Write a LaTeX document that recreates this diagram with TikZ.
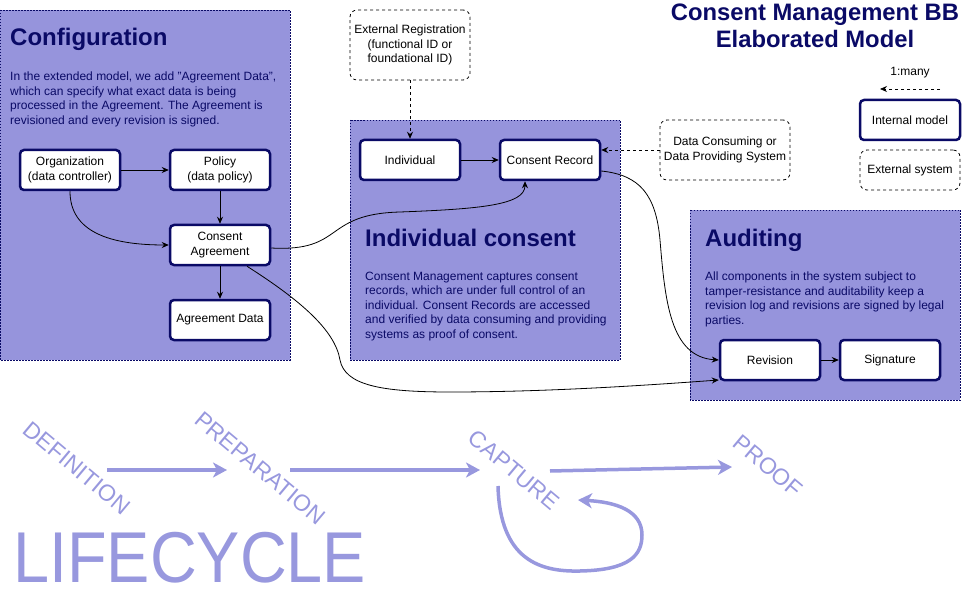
\documentclass[tikz,border=0pt]{standalone}
\usepackage{fontspec}
\setmainfont{Liberation Sans}
\usetikzlibrary{arrows.meta}
\definecolor{panel}{HTML}{9694DC}
\definecolor{navy}{HTML}{0A0A66}
\definecolor{life}{HTML}{9898DE}
\begin{document}
\begin{tikzpicture}[x=1pt,y=-1pt,
  every node/.style={font=\fontsize{12}{14.4}\selectfont},
  panelbox/.style={draw=navy, fill=panel, dash pattern=on 1.5pt off 1.5pt, line width=0.8pt},
  intbox/.style={draw=navy, fill=white, line width=2.5pt, rounded corners=4pt, minimum width=100pt, minimum height=40pt, align=center, inner sep=2pt},
  extbox/.style={draw=black, fill=white, dash pattern=on 3pt off 3pt, rounded corners=7pt, align=center, line width=0.8pt, inner sep=2pt},
  conn/.style={-{Stealth[length=7pt,width=6pt]}, line width=0.8pt},
  dconn/.style={conn, dash pattern=on 3pt off 3pt},
  ptitle/.style={anchor=base west, inner sep=0, text=navy, font=\fontsize{24}{28}\selectfont\bfseries},
  pbody/.style={anchor=north west, inner sep=0, text=navy, align=left},
  lifetext/.style={text=life, font=\fontsize{23}{23}\selectfont, rotate=-40, inner sep=0},
  lifearrow/.style={draw=life, line width=3.5pt, -{Stealth[length=14pt,width=15pt,inset=4pt]}},
  maintitle/.style={anchor=base, inner sep=0, text=navy, font=\fontsize{23.8}{28}\selectfont\bfseries},
]
\useasboundingbox (0,0) rectangle (962,607);

% panels
\draw[panelbox] (0,10) rectangle (290,360);
\draw[panelbox] (350,120) rectangle (620,360);
\draw[panelbox] (690,210) rectangle (960,400);

% titles
\node[maintitle] (t1) at (815,21) {Consent Management BB};
\node[maintitle] (t2) at (815,48) {Elaborated Model};

\node[ptitle] (cfgt) at (10,46) {Configuration};
\node[ptitle] (indt) at (365,246) {Individual consent};
\node[ptitle] (audt) at (705,246) {Auditing};

\node[pbody] (cfgb) at (10,72) {In the extended model, we add "Agreement Data",\\which can specify what exact data is being\\processed in the Agreement. The Agreement is\\revisioned and every revision is signed.};
\node[pbody] (indb) at (365,272) {Consent Management captures consent\\records, which are under full control of an\\individual. Consent Records are accessed\\and verified by data consuming and providing\\systems as proof of consent.};
\node[pbody] (audb) at (705,272) {All components in the system subject to\\tamper-resistance and auditability keep a\\revision log and revisions are signed by legal\\parties.};

% internal nodes
\node[intbox] (org) at (70,170) {Organization\\(data controller)};
\node[intbox] (pol) at (220,170) {Policy\\(data policy)};
\node[intbox] (ca) at (220,245) {Consent\\Agreement};
\node[intbox] (ad) at (220,320) {Agreement Data};
\node[intbox] (ind) at (410,160) {Individual};
\node[intbox] (cr) at (550,160) {Consent Record};
\node[intbox] (rev) at (770,360) {Revision};
\node[intbox] (sig) at (890,360) {Signature};
\node[intbox] (im) at (910,120) {Internal model};

% external nodes
\node[extbox, minimum width=120pt, minimum height=70pt] (ext) at (410,45) {External Registration\\(functional ID or\\foundational ID)};
\node[extbox, minimum width=130pt, minimum height=60pt] (dcs) at (725,150) {Data Consuming or\\Data Providing System};
\node[extbox, minimum width=100pt, minimum height=40pt] (es) at (910,170) {External system};

% legend
\node[inner sep=0] (one) at (910,73) {1:many};
\coordinate (la) at (940,89);
\coordinate (lb) at (880,89);
\draw[dconn] (la) -- (lb);

% connectors
\draw[conn] (org.east) -- (pol.west);
\draw[conn] (pol.south) -- (ca.north);
\draw[conn] (ca.south) -- (ad.north);
\draw[conn] (org.south) .. controls (70,232) and (110,245) .. (ca.west);
\draw[conn] (ind.east) -- (cr.west);
\draw[conn] (rev.east) -- (sig.west);
\draw[dconn] (ext.south) -- (ind.north);
\draw[dconn] (dcs.west) -- (cr.east |- dcs.west);
\draw[conn] ([yshift=-3pt]ca.east) .. controls (345,252) and (322,214) .. (400,212) .. controls (480,209) and (525,205) .. ([xshift=-25pt]cr.south);
\draw[conn] ([yshift=-11pt]cr.east) .. controls (640,175) and (656,195) .. (660,240) .. controls (665,300) and (670,357) .. (rev.west);
\draw[conn] ([xshift=27pt]ca.south) .. controls (300,300) and (335,330) .. (340,360) .. controls (345,385) and (380,392) .. (450,392) .. controls (550,392) and (650,385) .. ([yshift=-20pt]rev.west);

% lifecycle
\node[lifetext] (def) at (77,468) {DEFINITION};
\node[lifetext] (prep) at (260,468) {PREPARATION};
\node[lifetext] (cap) at (514,470) {CAPTURE};
\node[lifetext] (proof) at (768,466) {PROOF};
\coordinate (a1) at (107,470);
\coordinate (a2) at (227,470);
\coordinate (b1) at (290,470);
\coordinate (b2) at (480,470);
\coordinate (c1) at (550,471);
\coordinate (c2) at (732,467);
\coordinate (d1) at (498,486);
\coordinate (d2) at (578,500);
\draw[lifearrow] (a1) -- (a2);
\draw[lifearrow] (b1) -- (b2);
\draw[lifearrow] (c1) -- (c2);
\draw[lifearrow] (d1) .. controls (500,560) and (540,572) .. (580,571) .. controls (630,570) and (642,555) .. (642,535) .. controls (642,510) and (615,502) .. (d2);
\node[anchor=base west, inner sep=0, text=life, font=\fontsize{72}{72}\selectfont] (lc) at (13,582) {\scalebox{0.9}[1]{LIFECYCLE}};
\end{tikzpicture}
\end{document}
